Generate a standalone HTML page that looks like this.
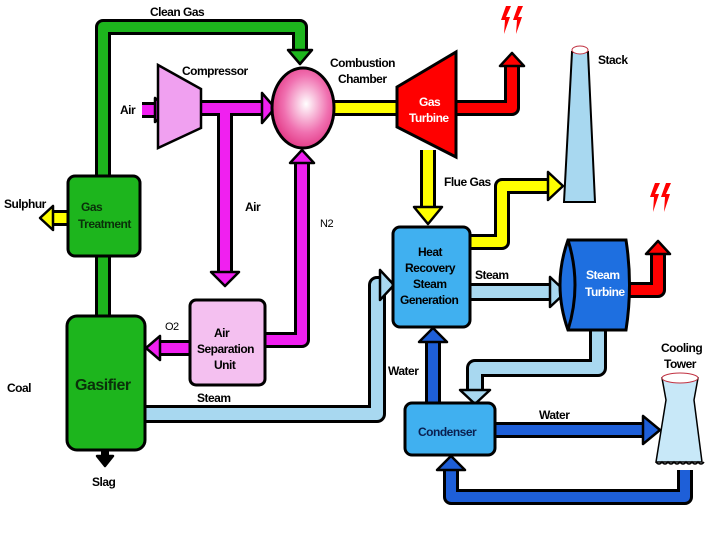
<!DOCTYPE html>
<html><head><style>
html,body{margin:0;padding:0;background:#fff;}
svg{display:block;}
text{font-family:"Liberation Sans",sans-serif;font-size:12px;font-weight:bold;fill:#000;letter-spacing:-0.5px;}
</style></head><body>
<svg width="720" height="540" viewBox="0 0 720 540" xmlns="http://www.w3.org/2000/svg">
<defs>
<radialGradient id="cc" cx="0.55" cy="0.45" r="0.6"><stop offset="0" stop-color="#fff"/><stop offset="0.6" stop-color="#f070b0"/><stop offset="1" stop-color="#e0307f"/></radialGradient>
</defs>
<g fill="none" stroke-linejoin="round">
<path d="M103,178 V27 H300 V50" stroke="#000" stroke-width="16"/>
<path d="M103,178 V27 H300 V50" stroke="#1db51d" stroke-width="10"/>
<path d="M103,255 V318" stroke="#000" stroke-width="16"/>
<path d="M103,255 V318" stroke="#1db51d" stroke-width="10"/>
<path d="M200,108 H265 M225,108 V275" stroke="#000" stroke-width="16"/>
<path d="M200,108 H265 M225,108 V275" stroke="#f020f0" stroke-width="10"/>
<path d="M265,340 H302 V160" stroke="#000" stroke-width="16"/>
<path d="M265,340 H302 V160" stroke="#f020f0" stroke-width="10"/>
<path d="M190,348 H158" stroke="#000" stroke-width="16"/>
<path d="M190,348 H158" stroke="#f020f0" stroke-width="10"/>
<path d="M142,110 H155" stroke="#000" stroke-width="16"/>
<path d="M142,110 H155" stroke="#f020f0" stroke-width="10"/>
<path d="M334,108 H400 M428,150 V210 M470,242 H502 V186 H550" stroke="#000" stroke-width="16"/>
<path d="M334,108 H400 M428,150 V210 M470,242 H502 V186 H550" stroke="#ffff00" stroke-width="10"/>
<path d="M68,218 H52" stroke="#000" stroke-width="16"/>
<path d="M68,218 H52" stroke="#ffff00" stroke-width="10"/>
<path d="M455,108 H512 V65" stroke="#000" stroke-width="16"/>
<path d="M455,108 H512 V65" stroke="#ff0000" stroke-width="10"/>
<path d="M628,290 H658 V253" stroke="#000" stroke-width="16"/>
<path d="M628,290 H658 V253" stroke="#ff0000" stroke-width="10"/>
<path d="M145,414 H377 V285 H382" stroke="#000" stroke-width="18"/>
<path d="M145,414 H377 V285 H382" stroke="#a8d8f0" stroke-width="12"/>
<path d="M470,292 H552" stroke="#000" stroke-width="18"/>
<path d="M470,292 H552" stroke="#a8d8f0" stroke-width="12"/>
<path d="M598,330 V368 H475 V393" stroke="#000" stroke-width="18"/>
<path d="M598,330 V368 H475 V393" stroke="#a8d8f0" stroke-width="12"/>
<path d="M433,403 V340 M495,430 H645 M685,470 V497 H451 V468" stroke="#000" stroke-width="16"/>
<path d="M433,403 V340 M495,430 H645 M685,470 V497 H451 V468" stroke="#1e5fd8" stroke-width="10"/>
<path d="M105,450 V458" stroke="#000" stroke-width="8"/>
</g>
<g stroke="#000" stroke-width="2.5" stroke-linejoin="round">
<polygon points="288,50 312,50 300,64" fill="#1db51d"/>
<polygon points="155,98 155,122 170,110" fill="#f020f0"/>
<polygon points="262,93 262,123 275,108" fill="#f020f0"/>
<polygon points="211,272 239,272 225,286" fill="#f020f0"/>
<polygon points="290,163 314,163 302,150" fill="#f020f0"/>
<polygon points="160,336 160,360 146,348" fill="#f020f0"/>
<polygon points="53,206 53,230 40,218" fill="#ffff00"/>
<polygon points="414,207 442,207 428,224" fill="#ffff00"/>
<polygon points="548,172 548,200 563,186" fill="#ffff00"/>
<polygon points="500,66 524,66 512,53" fill="#ff0000"/>
<polygon points="646,254 670,254 658,241" fill="#ff0000"/>
<polygon points="380,270 380,300 394,285" fill="#a8d8f0"/>
<polygon points="550,277 550,307 566,292" fill="#a8d8f0"/>
<polygon points="460,390 490,390 475,404" fill="#a8d8f0"/>
<polygon points="419,342 447,342 433,328" fill="#1e5fd8"/>
<polygon points="643,416 643,444 660,430" fill="#1e5fd8"/>
<polygon points="437,470 465,470 451,456" fill="#1e5fd8"/>
<polygon points="97,456 113,456 105,466" fill="#000"/>
</g>
<g stroke="#000" stroke-width="3">
<rect x="68" y="176" width="72" height="80" rx="7" fill="#1db51d"/>
<rect x="67" y="316" width="78" height="134" rx="10" fill="#1db51d"/>
<polygon points="158,65 201,89 201,128 158,148" fill="#f0a0f0" stroke-width="2.5"/>
<ellipse cx="303" cy="108" rx="31" ry="40" fill="url(#cc)"/>
<rect x="190" y="300" width="75" height="85" rx="6" fill="#f4c0f0"/>
<polygon points="397,87 456,52 456,157 397,127" fill="#ff0000"/>
<rect x="393" y="227" width="77" height="100" rx="7" fill="#40b0f0"/>
<path d="M568,240 H626 Q633,285 626,330 H568 Q552,285 568,240 Z" fill="#1e6fe0"/>
<path d="M568,240 Q582,285 568,330" fill="none"/>
<rect x="405" y="403" width="90" height="52" rx="7" fill="#40b0f0"/>
</g>
<polygon points="572,52 588,52 595,202 564,202" fill="#a8d8f0" stroke="#000" stroke-width="2"/>
<ellipse cx="580" cy="50" rx="8" ry="4" fill="#fff" stroke="#c03040" stroke-width="1"/>
<polygon points="662,378 698,378 694,400 702,462 656,462 666,400" fill="#c8e8f8" stroke="#000" stroke-width="1.5"/>
<ellipse cx="680" cy="378" rx="18" ry="5" fill="#fff" stroke="#c03040" stroke-width="1"/>
<path d="M656,462 q3,4 6,0 q3,4 6,0 q3,4 6,0 q3,4 6,0 q3,4 6,0 q3,4 6,0 q3,4 6,0 q3,4 6,0" fill="none" stroke="#000" stroke-width="1.5"/>
<g fill="#ff0000">
<polygon points="506,6 511,6 506,17 510,17 504,34 505,20 501,20"/>
<polygon points="518,6 523,6 518,17 522,17 516,34 517,20 513,20"/>
<polygon points="655,183 660,183 655,194 659,194 653,212 654,197 650,197"/>
<polygon points="666,183 671,183 666,194 670,194 664,212 665,197 661,197"/>
</g>
<text x="150" y="16">Clean Gas</text>
<text x="182" y="75">Compressor</text>
<text x="330" y="67">Combustion</text>
<text x="338" y="83">Chamber</text>
<text x="120" y="114">Air</text>
<text x="245" y="211">Air</text>
<text x="320" y="227" style="font-weight:normal;font-size:11px">N2</text>
<text x="4" y="208">Sulphur</text>
<text x="81" y="211" style="fill:#0a300a">Gas</text>
<text x="78" y="228" style="fill:#0a300a">Treatment</text>
<text x="165" y="330" style="font-weight:normal;font-size:11px">O2</text>
<text x="214" y="337">Air</text>
<text x="197" y="353">Separation</text>
<text x="214" y="369">Unit</text>
<text x="75" y="390" style="font-size:16px;fill:#0a300a">Gasifier</text>
<text x="7" y="392">Coal</text>
<text x="197" y="402">Steam</text>
<text x="92" y="486">Slag</text>
<text x="419" y="106" style="fill:#fff">Gas</text>
<text x="409" y="122" style="fill:#fff">Turbine</text>
<text x="444" y="186">Flue Gas</text>
<text x="598" y="64">Stack</text>
<text x="418" y="256">Heat</text>
<text x="405" y="272">Recovery</text>
<text x="413" y="288">Steam</text>
<text x="400" y="304">Generation</text>
<text x="475" y="279">Steam</text>
<text x="586" y="279" style="fill:#fff">Steam</text>
<text x="585" y="296" style="fill:#fff">Turbine</text>
<text x="661" y="352">Cooling</text>
<text x="664" y="368">Tower</text>
<text x="388" y="375">Water</text>
<text x="539" y="419">Water</text>
<text x="418" y="436" style="fill:#0a2050">Condenser</text>
</svg>
</body></html>
